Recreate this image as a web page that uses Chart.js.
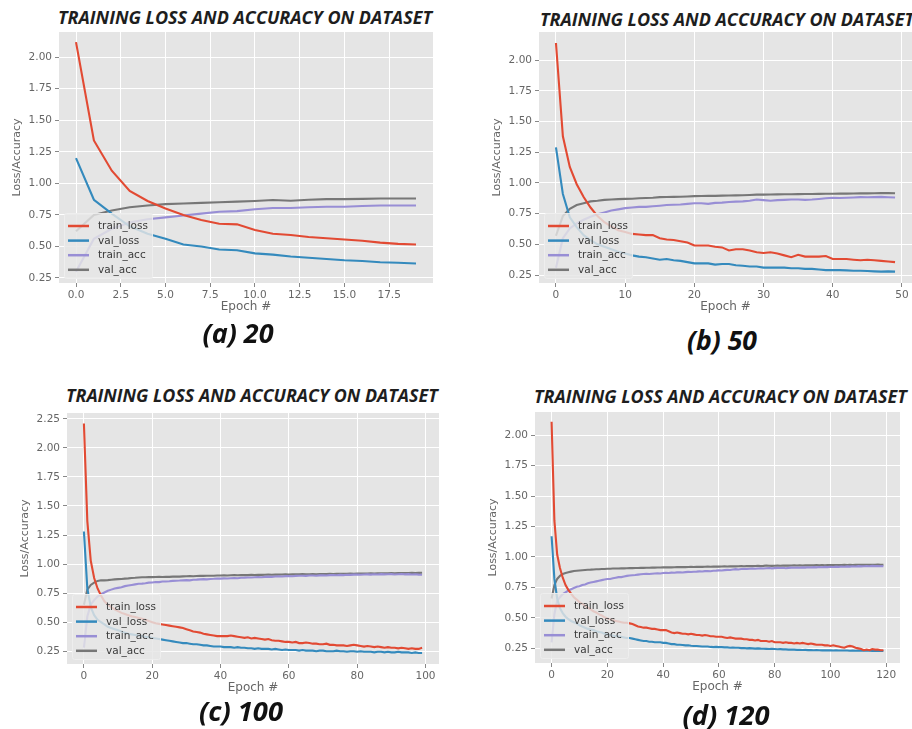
<!DOCTYPE html>
<html>
<head>
<meta charset="utf-8">
<script src="https://cdn.jsdelivr.net/npm/chart.js@4.4.1/dist/chart.umd.min.js"></script>
<style>
  html, body { margin: 0; padding: 0; background: #fff; }
  body { position: relative; width: 912px; height: 729px; overflow: hidden; }
  .panel { position: absolute; }
  .title, .caption {
    position: absolute;
    font-family: "Open Sans", "DejaVu Sans", sans-serif;
    font-weight: 700;
    font-style: italic;
    white-space: nowrap;
    line-height: 1;
  }
  .title { color: #1e1e1e; font-size: 15px; }
  .caption { color: #111; font-size: 24px; }
</style>
</head>
<body>

<div class="title" id="title_a">TRAINING LOSS AND ACCURACY ON DATASET</div>
<div class="title" id="title_b">TRAINING LOSS AND ACCURACY ON DATASET</div>
<div class="title" id="title_c">TRAINING LOSS AND ACCURACY ON DATASET</div>
<div class="title" id="title_d">TRAINING LOSS AND ACCURACY ON DATASET</div>

<div class="panel" id="wrap_a"><canvas id="chart_a"></canvas></div>
<div class="panel" id="wrap_b"><canvas id="chart_b"></canvas></div>
<div class="panel" id="wrap_c"><canvas id="chart_c"></canvas></div>
<div class="panel" id="wrap_d"><canvas id="chart_d"></canvas></div>

<div class="caption" id="cap_a">(a) 20</div>
<div class="caption" id="cap_b">(b) 50</div>
<div class="caption" id="cap_c">(c) 100</div>
<div class="caption" id="cap_d">(d) 120</div>

<script>
const series_names = ["train_loss", "val_loss", "train_acc", "val_acc"];
const series_colours = ["#E24A33", "#348ABD", "#988ED5", "#777777"];

// (a) 20 epochs
const a_train_loss = [2.12, 1.34, 1.10, 0.94, 0.86, 0.80, 0.75, 0.71, 0.68, 0.675, 0.63, 0.60, 0.59, 0.575, 0.565, 0.555, 0.545, 0.53, 0.52, 0.515];
const a_val_loss = [1.20, 0.87, 0.76, 0.66, 0.60, 0.56, 0.515, 0.50, 0.475, 0.47, 0.445, 0.435, 0.42, 0.41, 0.40, 0.39, 0.385, 0.375, 0.37, 0.365];
const a_train_acc = [0.30, 0.56, 0.64, 0.69, 0.715, 0.73, 0.745, 0.76, 0.775, 0.78, 0.795, 0.805, 0.805, 0.81, 0.815, 0.815, 0.82, 0.825, 0.825, 0.825];
const a_val_acc = [0.62, 0.75, 0.785, 0.81, 0.825, 0.835, 0.84, 0.845, 0.85, 0.855, 0.86, 0.868, 0.862, 0.87, 0.875, 0.875, 0.877, 0.88, 0.88, 0.88];

// (b) 50 epochs
const b_train_loss = [2.14, 1.38, 1.13, 0.99, 0.885, 0.80, 0.73, 0.68, 0.645, 0.615,
  0.60, 0.585, 0.58, 0.575, 0.575, 0.55, 0.54, 0.535, 0.525, 0.515,
  0.49, 0.49, 0.49, 0.48, 0.475, 0.45, 0.46, 0.46, 0.45, 0.435,
  0.43, 0.435, 0.425, 0.41, 0.395, 0.415, 0.40, 0.40, 0.40, 0.405,
  0.38, 0.38, 0.38, 0.375, 0.37, 0.375, 0.37, 0.365, 0.36, 0.355];
const b_val_loss = [1.29, 0.91, 0.72, 0.64, 0.575, 0.535, 0.50, 0.48, 0.46, 0.44,
  0.425, 0.41, 0.40, 0.395, 0.385, 0.375, 0.38, 0.37, 0.365, 0.355,
  0.345, 0.345, 0.345, 0.335, 0.34, 0.34, 0.33, 0.325, 0.32, 0.32,
  0.31, 0.31, 0.31, 0.31, 0.305, 0.305, 0.30, 0.30, 0.295, 0.29,
  0.29, 0.29, 0.288, 0.285, 0.285, 0.283, 0.28, 0.278, 0.28, 0.278];
const b_train_acc = [0.31, 0.55, 0.63, 0.67, 0.70, 0.725, 0.745, 0.76, 0.775, 0.785,
  0.795, 0.80, 0.805, 0.805, 0.81, 0.815, 0.82, 0.822, 0.825, 0.83,
  0.835, 0.835, 0.83, 0.838, 0.84, 0.845, 0.848, 0.85, 0.855, 0.865,
  0.86, 0.855, 0.86, 0.862, 0.865, 0.865, 0.862, 0.865, 0.87, 0.875,
  0.88, 0.878, 0.88, 0.882, 0.885, 0.884, 0.885, 0.887, 0.884, 0.882];
const b_val_acc = [0.57, 0.73, 0.79, 0.82, 0.835, 0.85, 0.855, 0.862, 0.865, 0.868,
  0.87, 0.872, 0.875, 0.878, 0.88, 0.885, 0.886, 0.887, 0.888, 0.89,
  0.893, 0.894, 0.895, 0.895, 0.897, 0.898, 0.899, 0.90, 0.902, 0.905,
  0.905, 0.906, 0.907, 0.908, 0.908, 0.909, 0.91, 0.91, 0.911, 0.912,
  0.912, 0.913, 0.913, 0.914, 0.915, 0.915, 0.916, 0.917, 0.917, 0.916];

// (c) 100 epochs
const c_train_loss = [2.21, 1.37, 1.03, 0.88, 0.79, 0.73, 0.68, 0.65, 0.63, 0.61,
  0.595, 0.58, 0.57, 0.56, 0.55, 0.545, 0.535, 0.53, 0.52, 0.51,
  0.50, 0.49, 0.485, 0.48, 0.475, 0.47, 0.465, 0.46, 0.455, 0.45,
  0.44, 0.43, 0.42, 0.415, 0.41, 0.40, 0.395, 0.39, 0.385, 0.38,
  0.38, 0.38, 0.38, 0.385, 0.38, 0.375, 0.37, 0.365, 0.37, 0.36,
  0.365, 0.36, 0.355, 0.35, 0.355, 0.345, 0.34, 0.34, 0.335, 0.33,
  0.33, 0.325, 0.33, 0.32, 0.32, 0.325, 0.32, 0.315, 0.315, 0.31,
  0.31, 0.315, 0.305, 0.305, 0.30, 0.30, 0.30, 0.295, 0.30, 0.305,
  0.30, 0.295, 0.29, 0.295, 0.29, 0.285, 0.29, 0.285, 0.28, 0.285,
  0.28, 0.28, 0.275, 0.28, 0.275, 0.27, 0.275, 0.27, 0.27, 0.28];
const c_val_loss = [1.28, 0.79, 0.63, 0.56, 0.52, 0.50, 0.48, 0.46, 0.45, 0.44,
  0.43, 0.42, 0.41, 0.40, 0.395, 0.39, 0.385, 0.38, 0.375, 0.37,
  0.365, 0.36, 0.355, 0.35, 0.345, 0.34, 0.335, 0.33, 0.325, 0.32,
  0.32, 0.315, 0.31, 0.31, 0.305, 0.30, 0.30, 0.295, 0.29, 0.29,
  0.29, 0.285, 0.285, 0.285, 0.28, 0.285, 0.28, 0.28, 0.275, 0.275,
  0.27, 0.275, 0.27, 0.27, 0.27, 0.265, 0.27, 0.265, 0.26, 0.265,
  0.26, 0.26, 0.26, 0.255, 0.26, 0.255, 0.255, 0.255, 0.25, 0.255,
  0.255, 0.25, 0.25, 0.25, 0.255, 0.25, 0.25, 0.245, 0.25, 0.25,
  0.245, 0.25, 0.245, 0.245, 0.245, 0.24, 0.245, 0.245, 0.24, 0.245,
  0.24, 0.24, 0.245, 0.24, 0.24, 0.24, 0.235, 0.24, 0.235, 0.235];
const c_train_acc = [0.28, 0.55, 0.65, 0.69, 0.72, 0.74, 0.755, 0.77, 0.78, 0.79,
  0.795, 0.80, 0.81, 0.815, 0.82, 0.825, 0.83, 0.832, 0.835, 0.84,
  0.842, 0.845, 0.845, 0.85, 0.85, 0.852, 0.855, 0.857, 0.858, 0.86,
  0.862, 0.86, 0.865, 0.866, 0.868, 0.87, 0.868, 0.872, 0.873, 0.875,
  0.875, 0.877, 0.876, 0.878, 0.88, 0.878, 0.882, 0.883, 0.885, 0.884,
  0.886, 0.888, 0.887, 0.89, 0.892, 0.89, 0.893, 0.894, 0.893, 0.896,
  0.897, 0.895, 0.898, 0.899, 0.90, 0.898, 0.901, 0.902, 0.90, 0.903,
  0.904, 0.902, 0.905, 0.906, 0.904, 0.907, 0.905, 0.908, 0.907, 0.909,
  0.91, 0.908, 0.91, 0.911, 0.909, 0.912, 0.91, 0.913, 0.911, 0.912,
  0.913, 0.91, 0.912, 0.914, 0.911, 0.913, 0.91, 0.912, 0.909, 0.908];
const c_val_acc = [0.65, 0.78, 0.82, 0.84, 0.855, 0.86, 0.86, 0.862, 0.865, 0.868,
  0.87, 0.872, 0.875, 0.877, 0.88, 0.882, 0.885, 0.886, 0.887, 0.888,
  0.888, 0.889, 0.89, 0.889, 0.891, 0.89, 0.892, 0.893, 0.892, 0.894,
  0.895, 0.896, 0.895, 0.897, 0.898, 0.898, 0.899, 0.90, 0.90, 0.901,
  0.902, 0.903, 0.902, 0.904, 0.905, 0.904, 0.905, 0.906, 0.905, 0.907,
  0.906, 0.908, 0.907, 0.908, 0.909, 0.908, 0.91, 0.909, 0.91, 0.911,
  0.91, 0.912, 0.911, 0.912, 0.913, 0.912, 0.913, 0.914, 0.913, 0.915,
  0.914, 0.915, 0.916, 0.915, 0.916, 0.917, 0.916, 0.917, 0.918, 0.917,
  0.918, 0.919, 0.918, 0.919, 0.92, 0.919, 0.92, 0.921, 0.92, 0.921,
  0.922, 0.921, 0.922, 0.923, 0.922, 0.923, 0.924, 0.923, 0.924, 0.925];

// (d) 120 epochs
const d_train_loss = [2.11, 1.30, 1.02, 0.91, 0.83, 0.77, 0.73, 0.70, 0.67, 0.65,
  0.63, 0.615, 0.60, 0.585, 0.57, 0.555, 0.545, 0.53, 0.52, 0.505,
  0.495, 0.49, 0.48, 0.475, 0.47, 0.465, 0.46, 0.46, 0.455, 0.45,
  0.44, 0.43, 0.425, 0.42, 0.42, 0.415, 0.41, 0.41, 0.405, 0.40,
  0.40, 0.40, 0.39, 0.38, 0.375, 0.38, 0.375, 0.37, 0.37, 0.365,
  0.37, 0.365, 0.36, 0.36, 0.355, 0.36, 0.355, 0.35, 0.35, 0.345,
  0.345, 0.345, 0.34, 0.335, 0.34, 0.335, 0.33, 0.33, 0.33, 0.325,
  0.325, 0.32, 0.32, 0.315, 0.32, 0.31, 0.31, 0.31, 0.305, 0.31,
  0.30, 0.30, 0.30, 0.295, 0.30, 0.295, 0.295, 0.29, 0.295, 0.29,
  0.295, 0.29, 0.285, 0.29, 0.285, 0.28, 0.28, 0.28, 0.275, 0.275,
  0.27, 0.275, 0.27, 0.265, 0.26, 0.255, 0.265, 0.27, 0.265, 0.255,
  0.25, 0.245, 0.235, 0.24, 0.235, 0.245, 0.24, 0.24, 0.235, 0.235];
const d_val_loss = [1.17, 0.82, 0.66, 0.58, 0.54, 0.51, 0.49, 0.475, 0.465, 0.455,
  0.44, 0.43, 0.42, 0.41, 0.405, 0.40, 0.39, 0.385, 0.38, 0.37,
  0.365, 0.36, 0.355, 0.35, 0.35, 0.345, 0.34, 0.335, 0.335, 0.33,
  0.325, 0.32, 0.315, 0.31, 0.31, 0.305, 0.305, 0.30, 0.30, 0.30,
  0.295, 0.295, 0.29, 0.285, 0.285, 0.28, 0.28, 0.278, 0.275, 0.275,
  0.272, 0.27, 0.27, 0.268, 0.265, 0.265, 0.265, 0.262, 0.26, 0.262,
  0.26, 0.26, 0.258, 0.258, 0.255, 0.257, 0.255, 0.255, 0.252, 0.253,
  0.25, 0.252, 0.25, 0.248, 0.25, 0.248, 0.247, 0.246, 0.245, 0.246,
  0.245, 0.243, 0.244, 0.242, 0.242, 0.24, 0.241, 0.24, 0.238, 0.238,
  0.237, 0.238, 0.236, 0.237, 0.235, 0.236, 0.235, 0.234, 0.235, 0.234,
  0.235, 0.233, 0.234, 0.232, 0.233, 0.232, 0.233, 0.231, 0.232, 0.231,
  0.232, 0.23, 0.231, 0.23, 0.231, 0.229, 0.23, 0.229, 0.23, 0.229];
const d_train_acc = [0.30, 0.53, 0.64, 0.67, 0.695, 0.71, 0.725, 0.735, 0.745, 0.755,
  0.76, 0.77, 0.775, 0.785, 0.79, 0.795, 0.80, 0.805, 0.81, 0.815,
  0.82, 0.82, 0.825, 0.83, 0.835, 0.835, 0.84, 0.845, 0.848, 0.85,
  0.852, 0.855, 0.858, 0.86, 0.862, 0.86, 0.863, 0.865, 0.866, 0.864,
  0.868, 0.87, 0.869, 0.872, 0.871, 0.874, 0.875, 0.873, 0.876, 0.878,
  0.877, 0.879, 0.88, 0.882, 0.881, 0.884, 0.885, 0.883, 0.887, 0.888,
  0.89, 0.889, 0.892, 0.894, 0.893, 0.897, 0.90, 0.898, 0.902, 0.903,
  0.901, 0.904, 0.906, 0.903, 0.905, 0.907, 0.906, 0.908, 0.91, 0.907,
  0.909, 0.911, 0.91, 0.912, 0.908, 0.911, 0.913, 0.912, 0.914, 0.912,
  0.915, 0.913, 0.916, 0.914, 0.917, 0.915, 0.918, 0.916, 0.919, 0.917,
  0.92, 0.918, 0.921, 0.919, 0.922, 0.92, 0.923, 0.921, 0.924, 0.922,
  0.925, 0.923, 0.924, 0.926, 0.924, 0.927, 0.925, 0.926, 0.924, 0.925];
const d_val_acc = [0.66, 0.77, 0.82, 0.845, 0.86, 0.868, 0.875, 0.88, 0.885, 0.887,
  0.889, 0.891, 0.893, 0.895, 0.896, 0.898, 0.899, 0.90, 0.901, 0.902,
  0.903, 0.904, 0.905, 0.905, 0.906, 0.907, 0.907, 0.908, 0.909, 0.909,
  0.91, 0.91, 0.911, 0.911, 0.912, 0.912, 0.913, 0.913, 0.914, 0.914,
  0.915, 0.915, 0.916, 0.915, 0.916, 0.917, 0.917, 0.918, 0.917, 0.918,
  0.919, 0.918, 0.919, 0.92, 0.919, 0.92, 0.921, 0.92, 0.921, 0.922,
  0.921, 0.922, 0.923, 0.922, 0.923, 0.924, 0.923, 0.924, 0.925, 0.924,
  0.925, 0.926, 0.925, 0.926, 0.927, 0.926, 0.927, 0.93, 0.928, 0.927,
  0.928, 0.929, 0.928, 0.929, 0.93, 0.929, 0.93, 0.931, 0.93, 0.931,
  0.93, 0.931, 0.932, 0.931, 0.932, 0.933, 0.932, 0.933, 0.932, 0.933,
  0.934, 0.933, 0.934, 0.933, 0.934, 0.935, 0.934, 0.935, 0.934, 0.935,
  0.936, 0.935, 0.936, 0.935, 0.936, 0.935, 0.936, 0.937, 0.936, 0.936];

// tick labels
const x_ticks_a = [0, 2.5, 5, 7.5, 10, 12.5, 15, 17.5];
const x_ticks_b = [0, 10, 20, 30, 40, 50];
const x_ticks_c = [0, 20, 40, 60, 80, 100];
const x_ticks_d = [0, 20, 40, 60, 80, 100, 120];
const y_ticks_loss = [0.25, 0.5, 0.75, 1.0, 1.25, 1.5, 1.75, 2.0];
const y_ticks_c = [0.25, 0.5, 0.75, 1.0, 1.25, 1.5, 1.75, 2.0, 2.25];

const tick_font = { family: "DejaVu Sans", size: 10.5 };
const Y_AXIS_W = 60, X_AXIS_H = 36, PAD_TOP = 10, PAD_RIGHT = 8;

// grey plot background, like matplotlib's ggplot style
const plot_background = {
  id: "plot_background",
  beforeDraw(chart) {
    const { ctx, chartArea } = chart;
    ctx.save();
    ctx.fillStyle = "#E5E5E5";
    ctx.fillRect(chartArea.left, chartArea.top, chartArea.right - chartArea.left, chartArea.bottom - chartArea.top);
    ctx.restore();
  }
};

// legend box in the lower left corner of the plot area
const box_legend = {
  id: "box_legend",
  afterDatasetsDraw(chart) {
    const { ctx, chartArea } = chart;
    const w = 88, h = 65;
    const x = chartArea.left + 5;
    const y = chartArea.bottom - 5 - h;
    ctx.save();
    ctx.fillStyle = "rgba(229,229,229,0.82)";
    ctx.strokeStyle = "rgba(238,238,238,0.9)";
    ctx.lineWidth = 1;
    ctx.beginPath();
    ctx.roundRect(x + 0.5, y + 0.5, w, h, 2);
    ctx.fill();
    ctx.stroke();
    ctx.font = "10.5px 'DejaVu Sans'";
    ctx.textBaseline = "middle";
    chart.data.datasets.forEach((ds, i) => {
      const row_y = y + 13 + i * 14.6;
      ctx.strokeStyle = ds.borderColor;
      ctx.lineWidth = 2.5;
      ctx.beginPath();
      ctx.moveTo(x + 4, row_y);
      ctx.lineTo(x + 25, row_y);
      ctx.stroke();
      ctx.fillStyle = "#3a3a3a";
      ctx.fillText(ds.label, x + 34, row_y + 0.5);
    });
    ctx.restore();
  }
};

function createPanel({ canvas_id, wrap_id, rect, series, x_min, x_max, y_min, y_max, x_ticks, y_ticks, x_digits }) {
  // place the canvas so its plot area lands on rect
  const wrap = document.getElementById(wrap_id);
  wrap.style.left = (rect.l - Y_AXIS_W) + "px";
  wrap.style.top = (rect.t - PAD_TOP) + "px";
  wrap.style.width = (rect.r - rect.l + Y_AXIS_W + PAD_RIGHT) + "px";
  wrap.style.height = (rect.b - rect.t + PAD_TOP + X_AXIS_H) + "px";

  const epochs = series[0].map((v, i) => i);

  const datasets = series.map((values, i) => ({
    label: series_names[i],
    data: values,
    borderColor: series_colours[i],
    backgroundColor: series_colours[i],
    borderWidth: 2.1,
    pointRadius: 0,
    tension: 0,
    fill: false
  }));

  const grid_style = { color: "#ffffff", lineWidth: 1, tickColor: "#888", tickLength: 4 };

  return new Chart(document.getElementById(canvas_id), {
    type: "line",
    data: { labels: epochs, datasets: datasets },
    options: {
      responsive: true,
      maintainAspectRatio: false,
      animation: false,
      layout: { padding: { top: PAD_TOP, right: PAD_RIGHT, left: 0, bottom: 0 } },
      plugins: { legend: { display: false }, tooltip: { enabled: false } },
      scales: {
        x: {
          type: "linear",
          min: x_min,
          max: x_max,
          afterBuildTicks: (scale) => { scale.ticks = x_ticks.map(v => ({ value: v })); },
          afterFit: (scale) => { scale.height = X_AXIS_H; },
          grid: grid_style,
          border: { display: false },
          ticks: { font: tick_font, color: "#666", padding: 2, maxRotation: 0, autoSkip: false,
                   callback: (v) => Number(v).toFixed(x_digits) },
          title: { display: true, text: "Epoch #", color: "#666",
                   font: { family: "DejaVu Sans", size: 12 }, padding: { top: 0, bottom: 5 } }
        },
        y: {
          min: y_min,
          max: y_max,
          afterBuildTicks: (scale) => { scale.ticks = y_ticks.map(v => ({ value: v })); },
          afterFit: (scale) => { scale.width = Y_AXIS_W; },
          grid: grid_style,
          border: { display: false },
          ticks: { font: tick_font, color: "#666", padding: 3, autoSkip: false,
                   callback: (v) => Number(v).toFixed(2) },
          title: { display: true, text: "Loss/Accuracy", color: "#666",
                   font: { family: "DejaVu Sans", size: 11 }, padding: { top: 12, bottom: 0 } }
        }
      }
    },
    plugins: [plot_background, box_legend]
  });
}

createPanel({ canvas_id: "chart_a", wrap_id: "wrap_a", rect: { l: 59, t: 32, r: 433, b: 283 },
  series: [a_train_loss, a_val_loss, a_train_acc, a_val_acc],
  x_min: -0.95, x_max: 19.95, y_min: 0.21, y_max: 2.20, x_ticks: x_ticks_a, y_ticks: y_ticks_loss, x_digits: 1 });

createPanel({ canvas_id: "chart_b", wrap_id: "wrap_b", rect: { l: 539, t: 32, r: 912, b: 283 },
  series: [b_train_loss, b_val_loss, b_train_acc, b_val_acc],
  x_min: -2.45, x_max: 51.45, y_min: 0.185, y_max: 2.23, x_ticks: x_ticks_b, y_ticks: y_ticks_loss, x_digits: 0 });

createPanel({ canvas_id: "chart_c", wrap_id: "wrap_c", rect: { l: 67, t: 413, r: 439, b: 664 },
  series: [c_train_loss, c_val_loss, c_train_acc, c_val_acc],
  x_min: -4.95, x_max: 103.95, y_min: 0.14, y_max: 2.30, x_ticks: x_ticks_c, y_ticks: y_ticks_c, x_digits: 0 });

createPanel({ canvas_id: "chart_d", wrap_id: "wrap_d", rect: { l: 535, t: 412, r: 900, b: 663 },
  series: [d_train_loss, d_val_loss, d_train_acc, d_val_acc],
  x_min: -5.95, x_max: 124.95, y_min: 0.13, y_max: 2.19, x_ticks: x_ticks_d, y_ticks: y_ticks_loss, x_digits: 0 });

// size a text block so it spans the given width, then place it
function fitText(id, width, left, center_y, centred) {
  const el = document.getElementById(id);
  const base = parseFloat(getComputedStyle(el).fontSize);
  const measured = el.getBoundingClientRect().width;
  const size = base * width / measured;
  el.style.fontSize = size.toFixed(2) + "px";
  const h = el.getBoundingClientRect().height;
  el.style.top = (center_y - h / 2) + "px";
  el.style.left = (centred ? left - width / 2 : left) + "px";
}

fitText("title_a", 374, 58, 17, false);
fitText("title_b", 374, 540, 19, false);
fitText("title_c", 372, 66, 396, false);
fitText("title_d", 373, 534, 397, false);

fitText("cap_a", 71, 238, 333, true);
fitText("cap_b", 70, 722, 340, true);
fitText("cap_c", 84, 241, 711, true);
fitText("cap_d", 87, 726, 715, true);
</script>
</body>
</html>
